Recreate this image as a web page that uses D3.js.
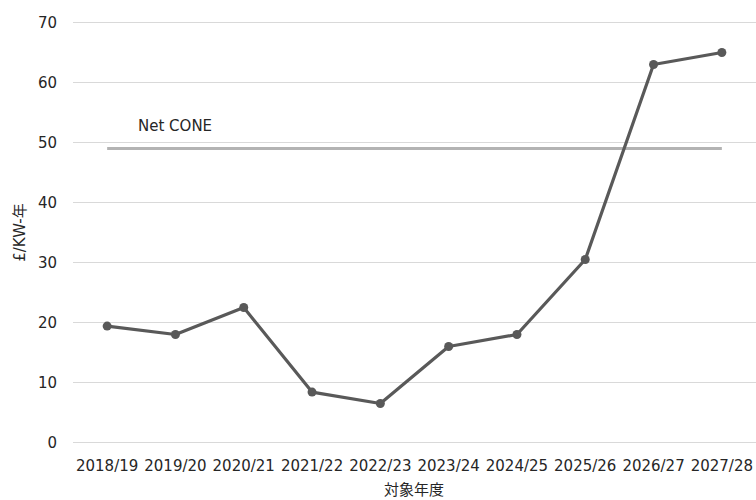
<!DOCTYPE html>
<html>
<head>
<meta charset="utf-8">
<script src="https://cdn.jsdelivr.net/npm/d3@7"></script>
<style>
  body { margin: 0; background: #fff; }
  text { font-family: "DejaVu Sans", Verdana, sans-serif; fill: #262626; }
  .cjk { font-family: "DejaVu Sans", "Noto Sans CJK JP", sans-serif; }
</style>
</head>
<body>
<div id="chart"></div>
<script>
var years = ["2018/19", "2019/20", "2020/21", "2021/22", "2022/23", "2023/24", "2024/25", "2025/26", "2026/27", "2027/28"];
var prices = [19.4, 18.0, 22.5, 8.4, 6.5, 16.0, 18.0, 30.5, 63.0, 65.0];
var netCone = 49;
var yTicks = [0, 10, 20, 30, 40, 50, 60, 70];

var width = 756,
    height = 500;

var margin = { top: 22.5, right: 0, bottom: 57.5, left: 73 };

var svg = d3.select("#chart").append("svg")
    .attr("width", width)
    .attr("height", height);

var x = d3.scalePoint()
    .domain(years)
    .range([margin.left, width - margin.right])
    .padding(0.5);

var y = d3.scaleLinear()
    .domain([0, 70])
    .range([height - margin.bottom, margin.top]);

// gridlines
svg.append("g")
    .selectAll("line")
    .data(yTicks)
  .enter().append("line")
    .attr("x1", margin.left)
    .attr("x2", width - margin.right)
    .attr("y1", function(d) { return y(d); })
    .attr("y2", function(d) { return y(d); })
    .attr("stroke", "#d9d9d9")
    .attr("stroke-width", 1);

// y tick labels
svg.append("g")
    .selectAll("text")
    .data(yTicks)
  .enter().append("text")
    .attr("x", 57)
    .attr("y", function(d) { return y(d); })
    .attr("dy", "0.36em")
    .attr("text-anchor", "end")
    .attr("font-size", 15)
    .text(function(d) { return d; });

// x tick labels
svg.append("g")
    .selectAll("text")
    .data(years)
  .enter().append("text")
    .attr("x", function(d) { return x(d); })
    .attr("y", 471)
    .attr("text-anchor", "middle")
    .attr("font-size", 15)
    .text(function(d) { return d; });

// Net CONE reference line
svg.append("line")
    .attr("x1", x(years[0]))
    .attr("x2", x(years[years.length - 1]))
    .attr("y1", y(netCone))
    .attr("y2", y(netCone))
    .attr("stroke", "#b3b3b3")
    .attr("stroke-width", 3);

svg.append("text")
    .attr("x", 138)
    .attr("y", y(netCone) - 17.5)
    .attr("font-size", 15)
    .text("Net CONE");

// main series
var line = d3.line()
    .x(function(d, i) { return x(years[i]); })
    .y(function(d) { return y(d); });

svg.append("path")
    .datum(prices)
    .attr("d", line)
    .attr("fill", "none")
    .attr("stroke", "#595959")
    .attr("stroke-width", 3.2)
    .attr("stroke-linejoin", "round");

svg.append("g")
    .selectAll("circle")
    .data(prices)
  .enter().append("circle")
    .attr("cx", function(d, i) { return x(years[i]); })
    .attr("cy", function(d) { return y(d); })
    .attr("r", 4.5)
    .attr("fill", "#595959");

// axis titles
svg.append("text")
    .attr("class", "cjk")
    .attr("transform", "translate(25," + ((margin.top + height - margin.bottom) / 2) + ") rotate(-90)")
    .attr("text-anchor", "middle")
    .attr("font-size", 15)
    .text("£/KW-年");

svg.append("text")
    .attr("class", "cjk")
    .attr("x", 414)
    .attr("y", 495)
    .attr("text-anchor", "middle")
    .attr("font-size", 15)
    .text("対象年度");
</script>
</body>
</html>
